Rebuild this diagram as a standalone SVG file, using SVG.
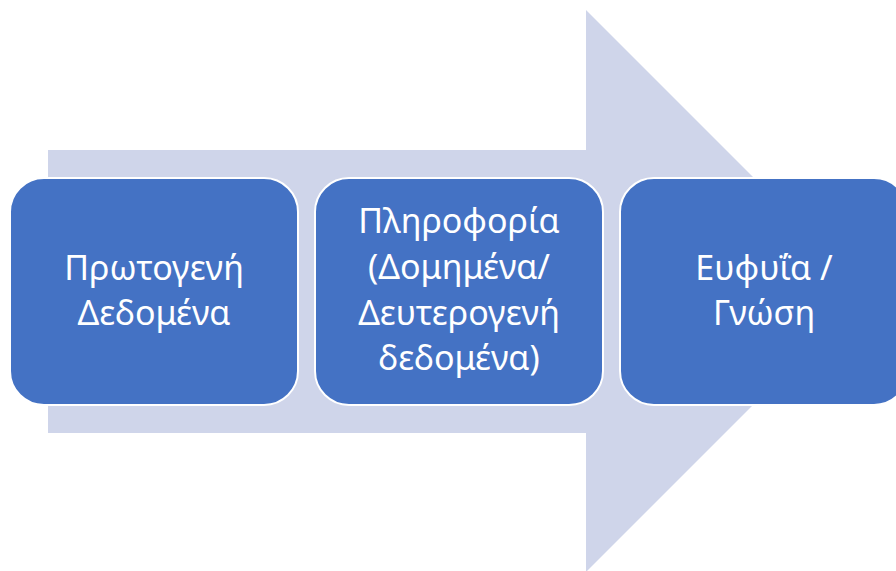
<svg xmlns="http://www.w3.org/2000/svg" width="896" height="571" viewBox="0 0 896 571">
<style>
.box{fill:#4472C4;stroke:#FFFFFF;stroke-width:2}
.lbl{font-family:"Noto Sans","Open Sans","DejaVu Sans",sans-serif;font-size:34px;fill:#FFFFFF;text-anchor:middle}
</style>
<rect width="896" height="571" fill="#FFFFFF"/>
<g id="arrow">
<polygon points="48,150 586,150 586,10 867,291 586,572 586,433 48,433" fill="#CFD5EA"/>
</g>
<g id="node1">
<rect class="box" x="10" y="178" width="288" height="227" rx="34" ry="34"/>
<text class="lbl" x="154" y="280">Πρωτογενή</text>
<text class="lbl" x="154" y="325">Δεδομένα</text>
</g>
<g id="node2">
<rect class="box" x="315" y="178" width="288" height="227" rx="34" ry="34"/>
<text class="lbl" x="459" y="233">Πληροφορία</text>
<text class="lbl" x="459" y="279">(Δομημένα/</text>
<text class="lbl" x="459" y="325">Δευτερογενή</text>
<text class="lbl" x="459" y="370">δεδομένα)</text>
</g>
<g id="node3">
<rect class="box" x="620" y="178" width="288" height="227" rx="34" ry="34"/>
<text class="lbl" x="764" y="280">Ευφυΐα /</text>
<text class="lbl" x="764" y="325">Γνώση</text>
</g>
<g id="connectors"></g>
</svg>
